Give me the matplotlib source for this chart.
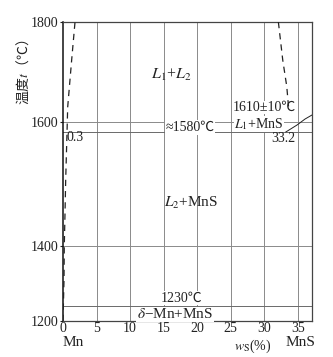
import numpy as np
import matplotlib
matplotlib.use("Agg")
import matplotlib.pyplot as plt

plt.rcParams['font.family'] = ['Liberation Serif', 'Noto Sans CJK SC', 'DejaVu Sans']
plt.rcParams['mathtext.fontset'] = 'stix'

# ---- data ----
x_ticks = [0, 5, 10, 15, 20, 25, 30, 35]
y_ticks = [1200, 1400, 1600, 1800]
iso_temps = [1580, 1230]          # invariant reaction lines

# left liquidus (dashed, near Mn)
left_T = [1200, 1303, 1398, 1452, 1504, 1580, 1630, 1724, 1800]
left_x = [0.0, 0.15, 0.19, 0.30, 0.40, 0.60, 0.70, 1.29, 1.79]
# right miscibility boundary (dashed, near MnS)
right_dash_T = [1800, 1724, 1671, 1634, 1624]
right_dash_x = [32.09, 32.74, 33.34, 33.58, 33.68]
# MnS liquidus (solid)
right_solid_T = [1580, 1594, 1606, 1614]
right_solid_x = [33.2, 34.87, 36.07, 37.1]

# schematic (non-uniform) temperature scale of the original figure
scale_T = [1200, 1230, 1400, 1580, 1600, 1800]
scale_P = [0, 15.5, 75, 189, 199, 299]

def fwd(t):
    return np.interp(t, scale_T, scale_P)

def inv(p):
    return np.interp(p, scale_P, scale_T)

W, H = 333, 357
fig = plt.figure(figsize=(W / 100, H / 100), dpi=100)
ax = fig.add_axes([63 / W, 1 - 321 / H, (312 - 63) / W, (321 - 22) / H])
ax.set_yscale('function', functions=(fwd, inv))
ax.set_xlim(0, 37.1)
ax.set_ylim(1200, 1800)

grid_c = '#8a8a8a'
for xv in x_ticks[1:]:
    ax.axvline(xv, color=grid_c, lw=0.7, zorder=1)
for yv in [1400, 1600]:
    ax.axhline(yv, color=grid_c, lw=0.7, zorder=1)
for yv in iso_temps:
    ax.axhline(yv, color='#6a6a6a', lw=0.7, zorder=1)

dash = (0, (5, 4))
ax.plot(left_x, left_T, color='#222222', lw=0.9, ls=dash, zorder=5)
ax.plot(right_dash_x, right_dash_T, color='#222222', lw=0.9, ls=dash, zorder=5)
ax.plot(right_solid_x, right_solid_T, color='#222222', lw=0.7, zorder=5)

ax.set_xticks(x_ticks)
ax.set_xticklabels([str(v) for v in x_ticks])
ax.set_yticks(y_ticks)
ax.set_yticklabels([str(v) for v in y_ticks])
ax.yaxis.set_minor_locator(matplotlib.ticker.NullLocator())
ax.tick_params(axis='x', length=0, pad=1.0, labelsize=10, colors='#222222')
ax.tick_params(axis='y', length=2, width=0.8, pad=1.5, labelsize=10, colors='#222222')

for s in ['top', 'right', 'bottom']:
    ax.spines[s].set_color('#444444')
    ax.spines[s].set_linewidth(0.9)
ax.spines['left'].set_color('#111111')
ax.spines['left'].set_linewidth(1.1)

fs = 10
wbox = dict(facecolor='white', edgecolor='none', pad=0.5)
ax.text(16.2, 1694, r'$L_1$+$L_2$', fontsize=11.5, ha='center', va='center', color='#222222')
ax.text(18.9, 1589, '≈1580℃', fontsize=fs, ha='center', va='center', color='#222222', bbox=wbox, zorder=3)
ax.text(29.95, 1617, '1610±10℃', fontsize=fs, ha='center', va='bottom', color='#222222',
        bbox=dict(facecolor='white', edgecolor='none', pad=0.0), zorder=3)
ax.text(29.2, 1580.5, r'$L_1$+MnS', fontsize=fs, ha='center', va='bottom', color='#222222',
        bbox=dict(facecolor='white', edgecolor='none', pad=0.0), zorder=3)
ax.text(34.6, 1570, '33.2', fontsize=fs, ha='right', va='center', color='#222222')
ax.text(0.45, 1572, '0.3', fontsize=fs, ha='left', va='center', color='#222222')
ax.text(19.1, 1468, r'$L_2$+MnS', fontsize=11, ha='center', va='center', color='#222222')
ax.text(17.7, 1251, '1230℃', fontsize=fs, ha='center', va='center', color='#222222', bbox=wbox, zorder=3)
ax.text(16.7, 1213, r'$\delta$−Mn+MnS', fontsize=11, ha='center', va='center', color='#222222',
        bbox=wbox, zorder=3)

fig.text(73 / W, 1 - 343 / H, 'Mn', fontsize=11, ha='center', va='center', color='#222222')
fig.text(300 / W, 1 - 342 / H, 'MnS', fontsize=11, ha='center', va='center', color='#222222')
fig.text(253 / W, 1 - 346 / H, r'$w_{\mathrm{S}}$(%)', fontsize=10, ha='center', va='center', color='#222222')
fig.text(23 / W, 1 - 72 / H, '温度$t$（℃）', fontsize=10, rotation=90, ha='center', va='center',
         color='#222222', family=['Noto Sans CJK SC', 'DejaVu Sans'])

fig.savefig('out.png', dpi=100)
